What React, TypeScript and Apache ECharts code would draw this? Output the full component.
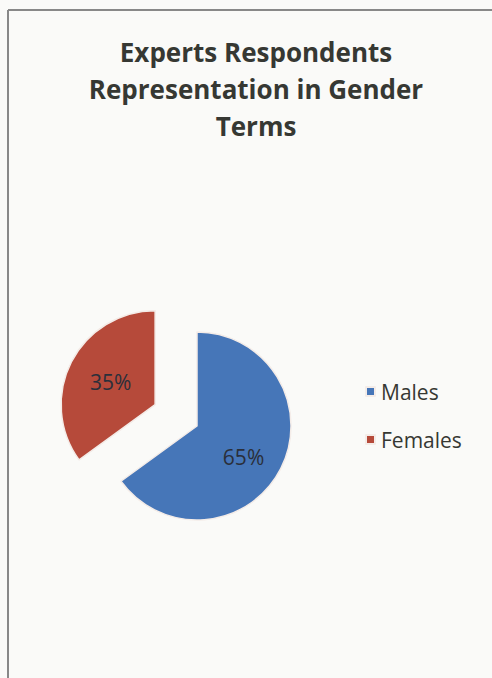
import React, { useEffect, useRef } from "react";
import * as echarts from "echarts";

const titleText = "Experts Respondents\nRepresentation in Gender\nTerms";
const categories = ["Males", "Females"];
const values = [65, 35];
const colors = ["#4676b8", "#b64a3a"];
const explodedIndex = 1;

export default function App() {
  const ref = useRef<HTMLDivElement>(null);
  useEffect(() => {
    if (!ref.current) return;
    const chart = echarts.init(ref.current, null, { renderer: "svg" });
    chart.setOption({
      animation: false,
      backgroundColor: "#fafaf8",
      title: {
        text: titleText,
        left: 251,
        textAlign: "center",
        top: 28,
        textStyle: {
          fontFamily: "Open Sans",
          fontWeight: "bold",
          fontSize: 26,
          lineHeight: 37,
          color: "#363833",
        },
      },
      legend: {
        orient: "vertical",
        left: 365,
        top: 381,
        padding: 0,
        itemWidth: 9,
        itemHeight: 9,
        itemGap: 27,
        icon: "rect",
        data: categories,
        textStyle: {
          fontFamily: "Open Sans",
          fontSize: 21,
          lineHeight: 21,
          color: "#363833",
          padding: [0, 0, 0, 1],
        },
      },
      graphic: [
        { type: "line", shape: { x1: 8, y1: 10, x2: 492, y2: 10 }, style: { stroke: "#888", lineWidth: 2 } },
        { type: "line", shape: { x1: 8, y1: 10, x2: 8, y2: 678 }, style: { stroke: "#888", lineWidth: 2 } },
      ],
      series: [
        {
          type: "pie",
          center: [197, 426],
          radius: [0, 94],
          startAngle: 90,
          clockwise: true,
          selectedMode: "multiple",
          selectedOffset: 47,
          avoidLabelOverlap: false,
          label: {
            show: true,
            position: "inside",
            formatter: "{d}%",
            fontFamily: "Open Sans",
            fontSize: 21,
            color: "#2a2f3a",
          },
          labelLine: { show: false },
          itemStyle: { borderColor: "#f4ece8", borderWidth: 1.5 },
          emphasis: { disabled: true },
          data: categories.map((name, i) => ({
            name,
            value: values[i],
            selected: i === explodedIndex,
            itemStyle: { color: colors[i] },
            label: { offset: i === 0 ? [2, 8] : [-3, -4] },
          })),
        },
      ],
    });
    return () => chart.dispose();
  }, []);
  return (
    <div
      ref={ref}
      style={{ position: "fixed", left: 0, top: 0, width: 492, height: 678 }}
    />
  );
}
